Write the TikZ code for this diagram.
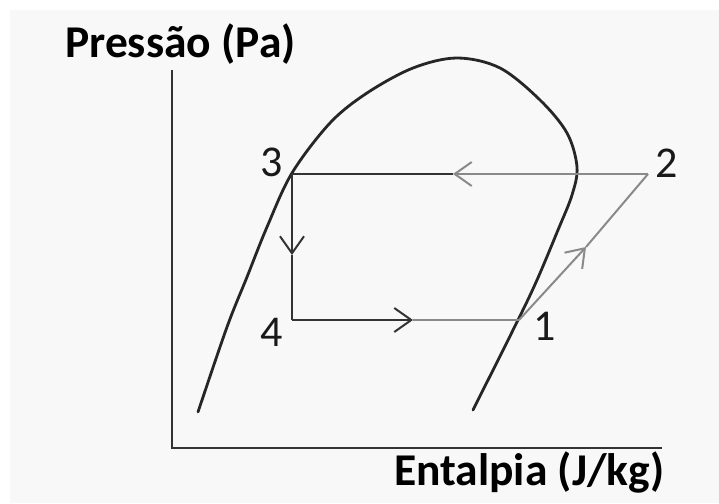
\documentclass[tikz,border=0pt]{standalone}
\usepackage{fontspec}
\setmainfont{Carlito}
\usetikzlibrary{arrows.meta}
\definecolor{bgcol}{HTML}{F8F8F8}
\definecolor{darkline}{HTML}{333333}
\definecolor{lightline}{HTML}{8A8A8A}
\begin{document}
\begin{tikzpicture}[
    x=1pt, y=-1pt,
    axis/.style={draw=darkline, line width=2.6pt},
    dome/.style={draw=black!85, line width=2.8pt},
    heavy/.style={draw=darkline, line width=2.8pt},
    light/.style={draw=lightline, line width=2pt},
    lbl/.style={inner sep=0pt, font=\fontsize{44}{48}\selectfont, text=black!90},
    title/.style={inner sep=0pt, font=\fontsize{45.5}{50}\selectfont\bfseries},
    >={Straight Barb[length=17pt, width=24pt, line width=2pt]}
]
    \useasboundingbox (0,0) rectangle (719,503);
    \fill[bgcol] (10,10) rectangle (719,503);

    % Axes
    \coordinate (top)    at (172,70);
    \coordinate (origin) at (172,448);
    \coordinate (right)  at (662,448);
    \draw[axis] (top) -- (origin) -- (right);

    \node[title, anchor=base west] (pres) at (65,57)  {Pressão (Pa)};
    \node[title, anchor=base west] (ent)  at (394,485) {Entalpia (J/kg)};

    % Saturation dome
    \draw[dome, line cap=round] plot[smooth, tension=0.55] coordinates {
        (198,412) (227,327) (247,277) (267,227) (292,173) (330,123)
        (367,93) (413,68) (457,58) (500,68) (540,100) (567,133)
        (577,167) (572,195) (558,230) (537,280) (518,320) (473,410)};

    % Cycle points
    \coordinate (p1) at (519,320);
    \coordinate (p2) at (648,174);
    \coordinate (p3) at (292,174);
    \coordinate (p4) at (292,320);

    \node[lbl, anchor=base east] (n1) at (556,340) {1};
    \node[lbl, anchor=base west] (n2) at (655,177) {2};
    \node[lbl, anchor=base east] (n3) at (283,176) {3};
    \node[lbl, anchor=base east] (n4) at (283,346) {4};

    % Arrow positions
    \coordinate (m23) at (453,174);
    \coordinate (m34) at (292,255);
    \coordinate (m41) at (413,320);
    \coordinate (m12) at (586,247);

    % Cycle
    \draw[light, ->] (p2) -- (m23);
    \draw[heavy] (m23) -- (p3);
    \draw[heavy, ->] (p3) -- (m34);
    \draw[heavy] (m34) -- (p4);
    \draw[heavy, ->] (p4) -- (m41);
    \draw[light] (m41) -- (p1);
    \draw[light, ->] (p1) -- (m12);
    \draw[light] (m12) -- (p2);
\end{tikzpicture}
\end{document}
